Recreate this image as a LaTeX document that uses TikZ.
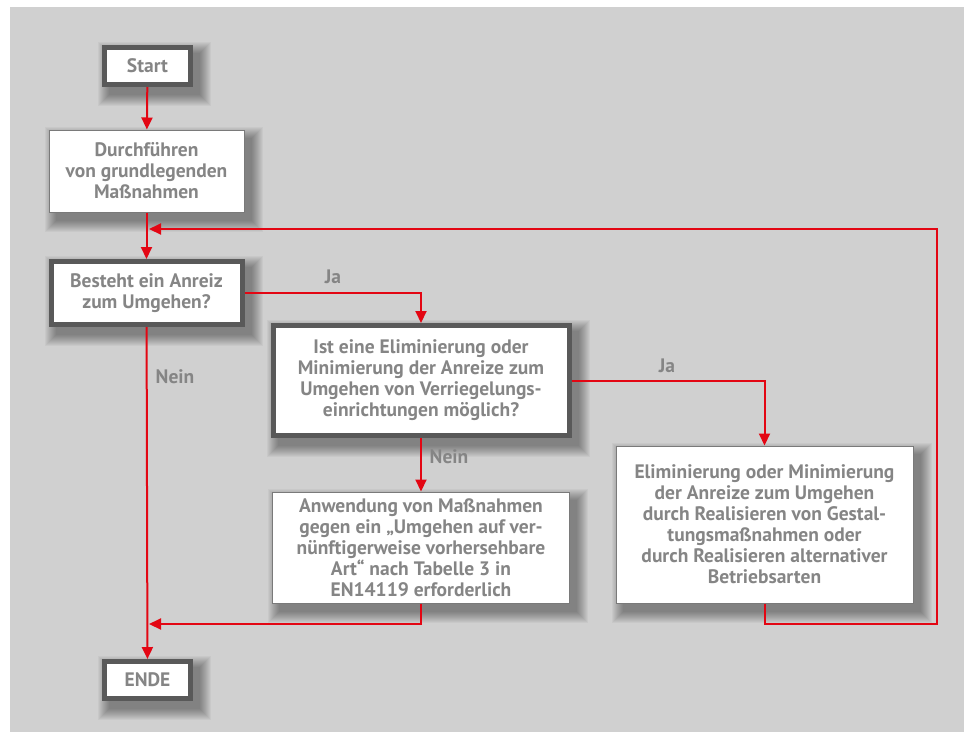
\documentclass[tikz,border=0pt]{standalone}
\usepackage{fontspec}
\setmainfont{PT Sans}
\usetikzlibrary{arrows.meta,backgrounds}
\definecolor{bggray}{HTML}{D0D0D0}
\definecolor{txtgray}{HTML}{858585}
\definecolor{framegray}{HTML}{595959}
\definecolor{thingray}{HTML}{7A7A7A}
\definecolor{flowred}{HTML}{E30613}
\tikzset{
  boxbase/.style={fill=white, inner sep=0pt, align=center, text=txtgray,
    font=\fontsize{19.5}{21}\selectfont\bfseries},
  thickbox/.style={boxbase, draw=framegray, line width=5pt},
  thinbox/.style={boxbase, draw=thingray, line width=1pt},
  flow/.style={draw=flowred, line width=2pt, -{Triangle[length=12pt,width=11pt]}},
  lbl/.style={text=txtgray, font=\fontsize{19.5}{21}\selectfont\bfseries},
  shadowlayer/.style={fill=black, opacity=0.035}
}
\newcommand\myboxshadow[1]{%
  \foreach \r in {0,1,...,11}{%
    \fill[shadowlayer] ([xshift=7pt-\r pt, yshift=-8pt+\r pt]#1.north west) rectangle ([xshift=7pt+\r pt, yshift=-8pt-\r pt]#1.south east);
  }}
\begin{document}
\begin{tikzpicture}[x=1pt,y=-1pt]
\useasboundingbox (0,0) rectangle (964,732);

\node[thickbox, minimum width=86pt, minimum height=37pt] (start) at (147.5,66) {Start};
\node[thinbox, minimum width=195pt, minimum height=82pt] (durch) at (146.5,171) {Durchführen\\von grundlegenden\\Maßnahmen};
\node[thickbox, minimum width=191pt, minimum height=63pt] (besteht) at (146.5,293) {Besteht ein Anreiz\\zum Umgehen?};
\node[thickbox, minimum width=296pt, minimum height=110pt] (frage) at (421,380.5) {Ist eine Eliminierung oder\\Minimierung der Anreize zum\\Umgehen von Verriegelungs-\\einrichtungen möglich?};
\node[thinbox, minimum width=297pt, minimum height=111pt] (anw) at (421,547.5) {Anwendung von Maßnahmen\\gegen ein „Umgehen auf ver-\\nünftigerweise vorhersehbare\\Art“ nach Tabelle 3 in\\EN14119 erforderlich};
\node[thinbox, minimum width=297pt, minimum height=157pt] (elim) at (764.5,524.5) {Eliminierung oder Minimierung\\der Anreize zum Umgehen\\durch Realisieren von Gestal-\\tungsmaßnahmen oder\\durch Realisieren alternativer\\Betriebsarten};
\node[thickbox, minimum width=86pt, minimum height=37pt] (ende) at (147.5,680) {ENDE};

\begin{scope}[on background layer]
\fill[white] (0,0) rectangle (964,732);
\fill[bggray] (10,7) rectangle (964,732);
\myboxshadow{start}
\myboxshadow{durch}
\myboxshadow{besteht}
\myboxshadow{frage}
\myboxshadow{anw}
\myboxshadow{elim}
\myboxshadow{ende}
\end{scope}

\coordinate (j1) at (149,229);
\coordinate (j2) at (149,624);
\coordinate (c1) at (421,624);
\coordinate (c2) at (764.5,624);
\coordinate (c3) at (937,624);
\coordinate (c4) at (937,229);

\draw[flow] (start) -- (durch);
\draw[flow] (durch) -- (besteht);
\draw[flow] (besteht.east) -| (frage.north);
\draw[flow] (frage.east) -| (elim.north);
\draw[flow] (frage) -- (anw);
\draw[flow] (besteht) -- (ende);
\draw[flow] (anw.south) -- (c1) -- (j2);
\draw[flow] (elim.south) -- (c2) -- (c3) -- (c4) -- (j1);

\node[lbl] (ja1) at (333,277) {Ja};
\node[lbl] (ja2) at (667,366) {Ja};
\node[lbl] (nein1) at (175,377) {Nein};
\node[lbl] (nein2) at (449,457) {Nein};
\end{tikzpicture}
\end{document}
